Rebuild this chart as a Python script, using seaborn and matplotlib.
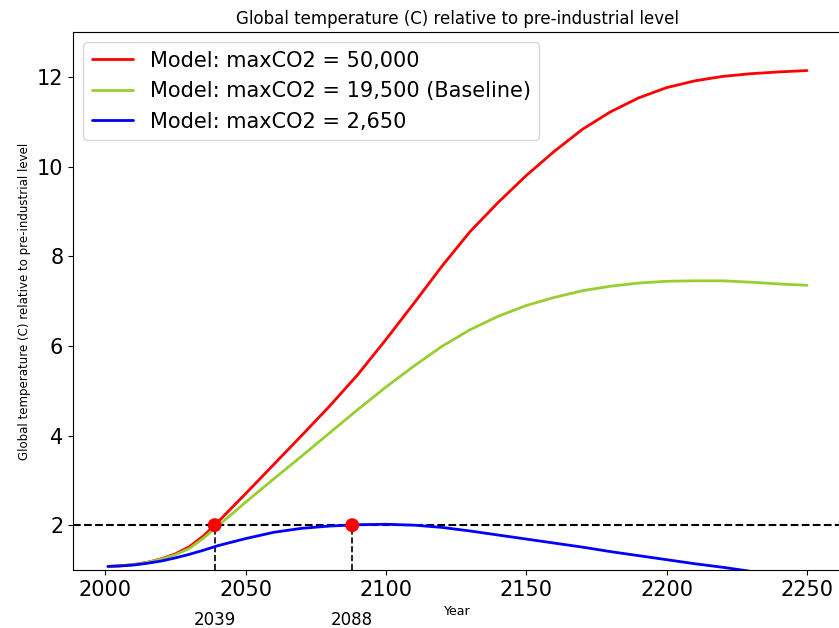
import matplotlib
matplotlib.use("Agg")
import matplotlib.pyplot as plt
import matplotlib.transforms as mtransforms
import pandas as pd
import seaborn as sns

# Model output: global temperature anomaly (C) by year for three emission caps
years = [2001, 2005, 2010, 2015, 2020, 2025, 2030, 2035, 2040, 2045, 2050,
         2060, 2070, 2080, 2090, 2100, 2110, 2120, 2130, 2140, 2150, 2160,
         2170, 2180, 2190, 2200, 2210, 2220, 2230, 2240, 2250]
temp_50000 = [1.08, 1.09, 1.12, 1.17, 1.25, 1.36, 1.52, 1.76, 2.06, 2.38, 2.70,
              3.35, 4.00, 4.66, 5.36, 6.14, 6.95, 7.78, 8.55, 9.20, 9.80, 10.34,
              10.83, 11.22, 11.53, 11.76, 11.91, 12.01, 12.07, 12.11, 12.14]
temp_19500 = [1.08, 1.09, 1.12, 1.17, 1.24, 1.34, 1.48, 1.71, 1.98, 2.24, 2.51,
              3.03, 3.54, 4.06, 4.58, 5.08, 5.55, 5.99, 6.36, 6.66, 6.90, 7.08,
              7.23, 7.33, 7.40, 7.44, 7.45, 7.45, 7.42, 7.38, 7.35]
temp_2650 = [1.08, 1.09, 1.11, 1.15, 1.20, 1.27, 1.35, 1.44, 1.54, 1.62, 1.70,
             1.84, 1.93, 1.98, 2.01, 2.02, 2.00, 1.95, 1.87, 1.78, 1.69, 1.60,
             1.51, 1.41, 1.32, 1.23, 1.14, 1.06, 0.97, 0.88, 0.80]

series_labels = ["Model: maxCO2 = 50,000",
                 "Model: maxCO2 = 19,500 (Baseline)",
                 "Model: maxCO2 = 2,650"]
series_colors = ["red", "yellowgreen", "blue"]

threshold = 2.0
crossing_years = [2039, 2088]

df = pd.concat([
    pd.DataFrame({"Year": years, "Temperature": vals, "Model": lab})
    for vals, lab in zip([temp_50000, temp_19500, temp_2650], series_labels)
])

sns.set_style("ticks", {"axes.edgecolor": "black", "text.color": "black",
                        "axes.labelcolor": "black", "xtick.color": "black",
                        "ytick.color": "black"})
plt.rcParams["font.family"] = ["DejaVu Sans"]

fig = plt.figure(figsize=(8.39, 6.28), dpi=100)
ax = fig.add_axes([73 / 839, 58 / 628, 769 / 839, 538 / 628])

sns.lineplot(data=df, x="Year", y="Temperature", hue="Model",
             hue_order=series_labels, palette=series_colors,
             linewidth=2, ax=ax)

ax.axhline(threshold, color="black", linestyle="--", linewidth=1.5, zorder=1)
for yr in crossing_years:
    ax.plot([yr, yr], [1, threshold], color="black", linestyle="--",
            linewidth=1.2, zorder=1)
sns.scatterplot(x=crossing_years, y=[threshold] * len(crossing_years),
                color="red", s=100, edgecolor="none", zorder=5, ax=ax,
                legend=False)

trans = mtransforms.blended_transform_factory(ax.transData, ax.transAxes)
for yr in crossing_years:
    ax.text(yr, -0.093, str(yr), transform=trans, ha="center", va="center",
            fontsize=12)

ax.set_xlim(1988.55, 2262.45)
ax.set_ylim(1, 13)
ax.set_yticks([2, 4, 6, 8, 10, 12])
ax.set_xticks([2000, 2050, 2100, 2150, 2200, 2250])
ax.tick_params(labelsize=15)
ax.set_xlabel("Year", fontsize=9)
ax.set_ylabel("Global temperature (C) relative to pre-industrial level", fontsize=8.5)
ax.set_title("Global temperature (C) relative to pre-industrial level", fontsize=12)

ax.legend(loc="upper left", fontsize=15, frameon=True)

fig.savefig("out.png", dpi=100)
